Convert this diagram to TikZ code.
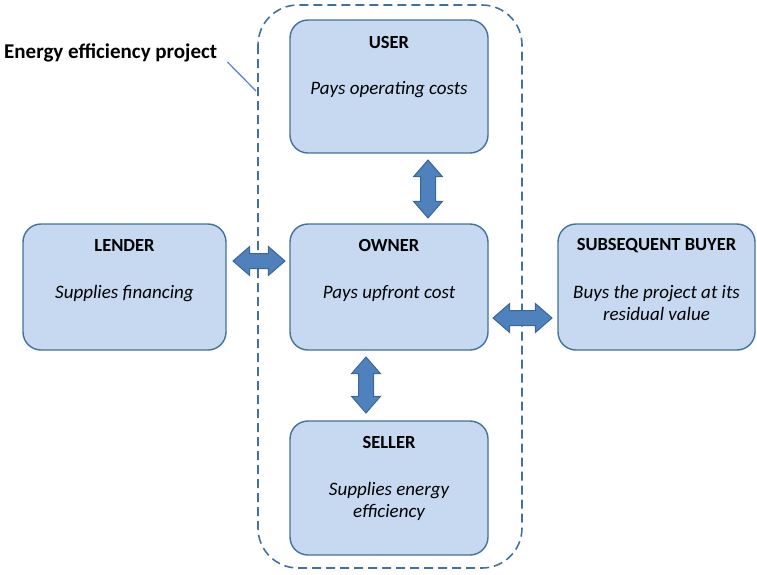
\documentclass[tikz,border=0pt]{standalone}
\usepackage{fontspec}
\setmainfont{Carlito}
\usetikzlibrary{shapes.arrows}
\definecolor{boxfill}{HTML}{C6D9F1}
\definecolor{boxline}{HTML}{41719C}
\definecolor{arrowfill}{HTML}{4F81BD}
\definecolor{arrowline}{HTML}{3A6799}

\begin{document}
\begin{tikzpicture}[x=1pt,y=-1pt]
	\tikzset{party/.style={draw=boxline, line width=1.4pt, fill=boxfill, rounded corners=18pt, minimum width=198pt, minimum height=128pt, inner sep=0pt}}
	\tikzset{head/.style={font=\fontsize{18.5}{22}\selectfont\bfseries, inner sep=0pt}}
	\tikzset{role/.style={font=\fontsize{19}{21.5}\selectfont\itshape, align=center, anchor=north, inner sep=0pt}}
	\tikzset{link/.style={draw=arrowline, line width=1pt, fill=arrowfill, shape=double arrow, double arrow head extend=7pt, double arrow tip angle=82, minimum width=28pt, inner xsep=0pt, inner ysep=7pt}}
	\useasboundingbox (0,0) rectangle (757,574);
	%project boundary
	\draw[boxline, line width=1.6pt, dash pattern=on 9pt off 5pt, rounded corners=40pt] (258,5) rectangle (522,568);
	\node[font=\fontsize{21}{24}\selectfont\bfseries, anchor=west, inner sep=0pt] (title) at (4,53) {Energy efficiency project};
	\coordinate (tick) at (256,91);
	\draw[arrowfill, line width=1.2pt] (title.east) ++(10,9) -- (tick);
	%parties
	\node[party, minimum height=133pt] (user) at (389,86.5) {};
	\node[party, minimum height=126pt] (owner) at (389,287) {};
	\node[party, minimum height=134pt] (seller) at (389,488) {};
	\node[party, minimum width=203pt, minimum height=126pt] (lender) at (124.5,287) {};
	\node[party, minimum width=197pt, minimum height=126pt] (buyer) at (656.5,287) {};
	%texts
	\node[head] at ([yshift=-23pt]user.north) {USER};
	\node[role] at ([yshift=-62pt]user.north) {Pays operating costs};
	\node[head] at ([yshift=-22pt]owner.north) {OWNER};
	\node[role] at ([yshift=-62pt]owner.north) {Pays upfront cost};
	\node[head] at ([yshift=-22pt]seller.north) {SELLER};
	\node[role] at ([yshift=-62pt]seller.north) {Supplies energy\\efficiency};
	\node[head] at ([yshift=-22pt]lender.north) {LENDER};
	\node[role] at ([yshift=-62pt]lender.north) {Supplies financing};
	\node[head] at ([yshift=-22pt]buyer.north) {SUBSEQUENT BUYER};
	\node[role] at ([yshift=-62pt]buyer.north) {Buys the project at its\\residual value};
	%links
	\node[link, minimum height=58pt, rotate=90] (useown) at (428,189) {};
	\node[link, minimum height=56pt, rotate=90] (ownsel) at (366,385) {};
	\node[link, minimum height=52pt] (lenown) at (259,261) {};
	\node[link, minimum height=59pt] (ownbuy) at (522.5,318) {};
\end{tikzpicture}
\end{document}
